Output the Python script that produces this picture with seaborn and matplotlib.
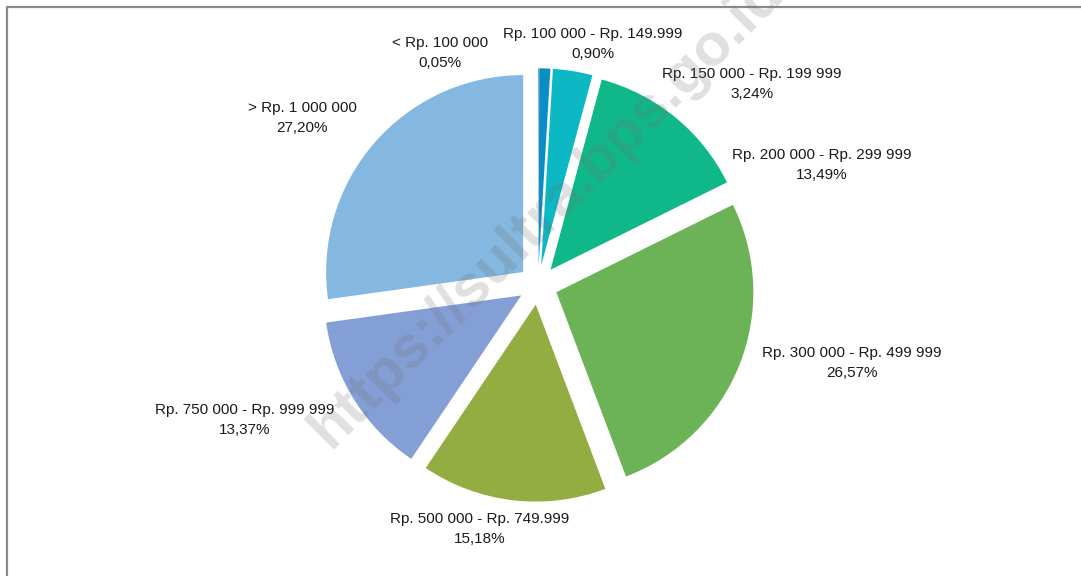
import matplotlib.pyplot as plt
import matplotlib.lines as mlines
import seaborn as sns

# data
categories = ["< Rp. 100 000", "Rp. 100 000 - Rp. 149.999", "Rp. 150 000 - Rp. 199 999",
              "Rp. 200 000 - Rp. 299 999", "Rp. 300 000 - Rp. 499 999",
              "Rp. 500 000 - Rp. 749.999", "Rp. 750 000 - Rp. 999 999", "> Rp. 1 000 000"]
shares = [0.05, 0.90, 3.24, 13.49, 26.57, 15.18, 13.37, 27.20]
colors = ["#1f6fb0", "#0a8cc4", "#0bb8c4", "#10b889", "#6cb257", "#94ad42", "#849fd5", "#84b8e0"]

# label centres in pixels (x from left, y from top)
label_px = [(440, 53), (593, 44), (752, 84), (822, 165), (852, 363),
            (480, 529), (245, 420), (302, 118)]

W, H = 1081, 576
cx, cy, R = 538, 285, 197  # pie centre (from top) and radius in px

sns.set_theme(style="white")
plt.rcParams['font.family'] = ['Liberation Sans', 'DejaVu Sans']

fig = plt.figure(figsize=(W / 100, H / 100), dpi=100)
ax = fig.add_axes([0, 0, 1, 1])
ax.pie(shares, colors=colors, startangle=90, counterclock=False,
       explode=[0.1] * len(shares), radius=1,
       wedgeprops=dict(linewidth=0))
ax.set_aspect('auto')
ax.set_xlim(-cx / R, (W - cx) / R)
ax.set_ylim(-(H - cy) / R, cy / R)
ax.axis('off')

for cat, val, (px, py) in zip(categories, shares, label_px):
    txt = cat + "\n" + f"{val:.2f}".replace(".", ",") + "%"
    ax.text((px - cx) / R, (cy - py) / R, txt, ha='center', va='center',
            fontsize=11, color='#1a1a1a', linespacing=1.5)

# watermark (cut by the image edge, as in the source)
fig.text(0.506, 0.634, "https://sultra.bps.go.id", rotation=45, ha='center', va='center',
         fontsize=43, fontweight='bold', color='#707070', alpha=0.22)

# frame
fig.add_artist(mlines.Line2D([7 / W, 7 / W], [0, 1 - 7 / H], color='#8a8a8a', lw=1.6))
fig.add_artist(mlines.Line2D([7 / W, 1], [1 - 7 / H, 1 - 7 / H], color='#8a8a8a', lw=1.6))

fig.savefig('out.png', dpi=100)
